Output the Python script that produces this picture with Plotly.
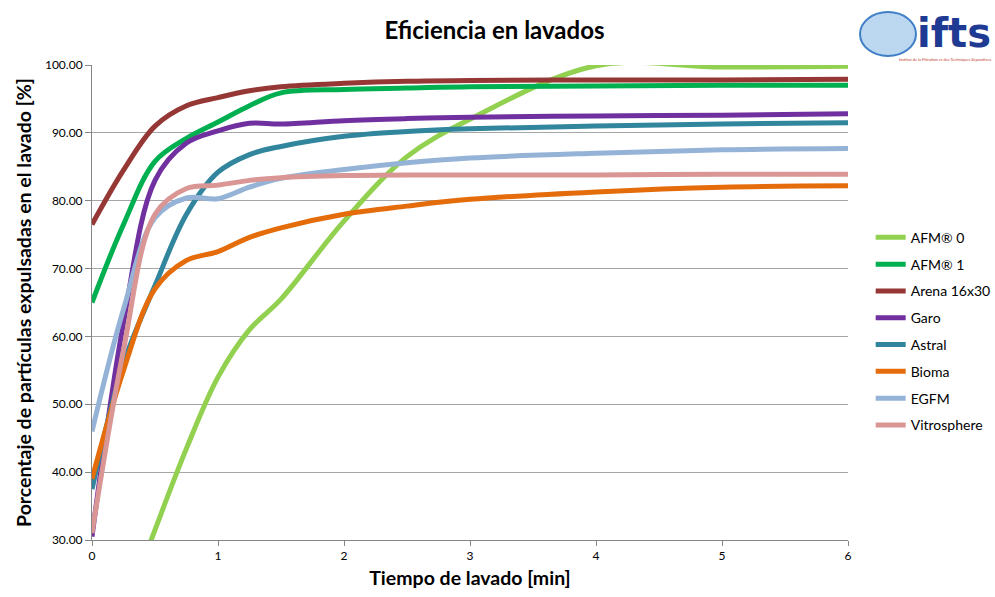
import plotly.graph_objects as go

times = [0, 0.25, 0.5, 0.75, 1, 1.25, 1.5, 2, 2.5, 3, 4, 5, 6]

afm0 = [8, 19, 31.5, 43.5, 54, 61, 65.5, 77, 86.5, 92, 99.9, 99.7, 99.8]
afm1 = [65, 76.5, 85.8, 89.2, 91.6, 94, 95.9, 96.4, 96.6, 96.8, 96.9, 97, 97]
arena = [76.5, 84.5, 91, 94, 95.2, 96.2, 96.8, 97.3, 97.6, 97.7, 97.8, 97.8, 97.9]
garo = [30.5, 62, 83, 88.5, 90.3, 91.4, 91.3, 91.8, 92.1, 92.3, 92.5, 92.6, 92.8]
astral = [37.5, 56, 67.5, 78, 84.2, 86.8, 88, 89.5, 90.2, 90.6, 91, 91.3, 91.5]
bioma = [39, 55, 67, 71.2, 72.5, 74.6, 76, 78, 79.2, 80.2, 81.3, 82, 82.2]
egfm = [46, 64, 77.5, 80.4, 80.3, 82, 83.3, 84.6, 85.6, 86.3, 87, 87.5, 87.7]
vitro = [31, 58, 78, 81.8, 82.3, 83, 83.4, 83.7, 83.8, 83.8, 83.8, 83.9, 83.9]

names = ["AFM® 0", "AFM® 1", "Arena 16x30", "Garo", "Astral", "Bioma", "EGFM", "Vitrosphere"]
series = [afm0, afm1, arena, garo, astral, bioma, egfm, vitro]
colors = ["#92d050", "#00b050", "#953735", "#7030a0", "#31859c", "#e46c0a", "#95b3d7", "#d99694"]

FONT = "Lato"

fig = go.Figure()
for i, (n, s, c) in enumerate(zip(names, series, colors)):
    fig.add_trace(go.Scatter(
        x=times, y=s, name=n, mode="lines",
        line=dict(color=c, width=5, shape="spline", smoothing=1.0),
        legendgroup=f"g{i}",
    ))

fig.update_layout(
    width=995, height=597,
    margin=dict(l=92, r=147, t=65, b=57, autoexpand=False),
    paper_bgcolor="white", plot_bgcolor="white",
    font=dict(family=FONT, color="#000000", size=12),
    title=dict(text="<b>Eficiencia en lavados</b>", x=0.497, xanchor="center",
               y=0.948, yanchor="middle", font=dict(size=24, family=FONT, color="#000")),
    showlegend=True,
    legend=dict(x=1.03, xanchor="left", y=0.67, yanchor="top",
                font=dict(size=14, family=FONT, color="#000"),
                tracegroupgap=5.6, traceorder="grouped",
                bgcolor="rgba(0,0,0,0)", itemwidth=30),
    xaxis=dict(range=[0, 6], dtick=1, tick0=0, showgrid=False, zeroline=False,
               showline=True, linecolor="#868686", linewidth=1,
               ticks="outside", ticklen=5, tickcolor="#868686",
               tickfont=dict(size=12, family=FONT, color="#000"),
               title=dict(text="<b>Tiempo de lavado [min]</b>", font=dict(size=19.5, family=FONT), standoff=8)),
    yaxis=dict(range=[30, 100], dtick=10, tick0=30, tickformat=".2f",
               showgrid=True, gridcolor="#a6a6a6", gridwidth=1, zeroline=False,
               showline=True, linecolor="#868686", linewidth=1,
               ticks="outside", ticklen=6, tickcolor="#868686",
               tickfont=dict(size=12, family=FONT, color="#000"),
               title=dict(text="<b>Porcentaje de partículas expulsadas en el lavado [%]</b>",
                          font=dict(size=19.5, family=FONT), standoff=8)),
)

# simple logo approximation
fig.add_shape(type="circle", xref="paper", yref="paper",
              x0=(860 - 92) / 756, x1=(916 - 92) / 756,
              y0=(540 - 56) / 475, y1=(540 - 12) / 475,
              fillcolor="#bcd7f0", line=dict(color="#3f7fc6", width=2))
fig.add_annotation(text="<b>ifts</b>", xref="paper", yref="paper",
                   x=(954 - 92) / 756, y=(540 - 33) / 475, showarrow=False,
                   font=dict(size=40, family="DejaVu Sans", color="#1f3a93"),
                   xanchor="center", yanchor="middle")
fig.add_annotation(text="Institut de la Filtration et des Techniques Séparatives", xref="paper", yref="paper",
                   x=(897 - 92) / 756, y=(540 - 60) / 475, showarrow=False,
                   font=dict(size=4, family=FONT, color="#c0392b"),
                   xanchor="left", yanchor="middle")

fig.write_html("out.html", config={"displayModeBar": False},
               post_script="document.body.style.margin='0';document.body.style.padding='0';")
